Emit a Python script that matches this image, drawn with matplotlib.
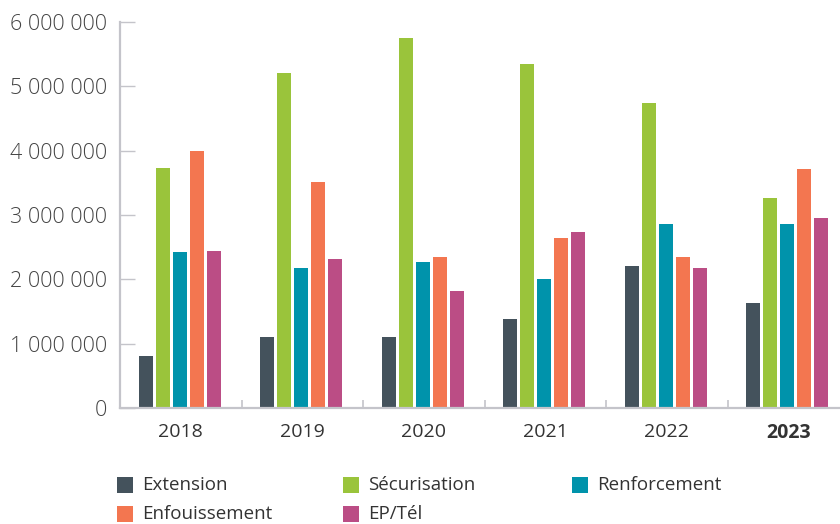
import matplotlib
matplotlib.use("Agg")
import matplotlib.pyplot as plt
from matplotlib.patches import Rectangle
from matplotlib.ticker import FuncFormatter, FixedLocator
import numpy as np

plt.rcParams["font.family"] = ["Open Sans", "DejaVu Sans"]

years = ["2018", "2019", "2020", "2021", "2022", "2023"]
series_names = ["Extension", "Sécurisation", "Renforcement", "Enfouissement", "EP/Tél"]
series_colors = ["#44525c", "#9ac43b", "#0093ab", "#f37650", "#bb4d85"]

extension = [810000, 1110000, 1110000, 1380000, 2200000, 1630000]
securisation = [3730000, 5200000, 5750000, 5350000, 4740000, 3260000]
renforcement = [2420000, 2170000, 2270000, 2000000, 2860000, 2860000]
enfouissement = [4000000, 3510000, 2350000, 2650000, 2350000, 3710000]
ep_tel = [2440000, 2320000, 1820000, 2730000, 2170000, 2950000]
series_values = [extension, securisation, renforcement, enfouissement, ep_tel]

yticks = [0, 1000000, 2000000, 3000000, 4000000, 5000000, 6000000]

W, H = 840, 524
fig = plt.figure(figsize=(W / 100, H / 100), dpi=100)
# axes runs a bit past the right edge, like the original
ax = fig.add_axes([120 / W, (H - 408) / H, 729 / W, 386 / H])

x = np.arange(len(years))
step = 0.14
width = 0.115
for i, (vals, color) in enumerate(zip(series_values, series_colors)):
    ax.bar(x + (i - 2) * step - 0.01, vals, width, color=color, zorder=2)

ax.set_xlim(-0.5, len(years) - 0.5)
ax.set_ylim(0, 6000000)

grey = "#c4c4ca"
for side in ["top", "right"]:
    ax.spines[side].set_visible(False)
for side in ["left", "bottom"]:
    ax.spines[side].set_color(grey)
    ax.spines[side].set_linewidth(1.6)
    ax.spines[side].set_zorder(3)

ax.set_yticks(yticks)
ax.yaxis.set_major_formatter(FuncFormatter(lambda v, p: f"{int(v):,}".replace(",", " ")))
ax.tick_params(axis="y", direction="in", length=11, width=1, color=grey,
               labelsize=15.5, labelcolor="#444444", pad=9)
for lbl in ax.get_yticklabels():
    lbl.set_fontweight("light")

ax.set_xticks(x)
ax.set_xticklabels(years)
ax.tick_params(axis="x", which="major", length=0, labelsize=14,
               labelcolor="#333333", pad=11)
ax.xaxis.set_minor_locator(FixedLocator(x[:-1] + 0.5))
ax.tick_params(axis="x", which="minor", direction="in", length=5.5, width=1.2, color=grey)
ax.get_xticklabels()[-1].set_fontweight("bold")

# legend, laid out by hand in two rows
col_x = [117, 343, 572]
row_y = [485, 514]
for i, (name, color) in enumerate(zip(series_names, series_colors)):
    cx = col_x[i % 3]
    cy = row_y[i // 3]
    fig.patches.append(Rectangle((cx / W, (H - cy - 8) / H), 16 / W, 16 / H,
                                 transform=fig.transFigure, facecolor=color,
                                 edgecolor="none"))
    fig.text((cx + 25) / W, (H - cy) / H, name, fontsize=13.5, color="#333333",
             ha="left", va="center")

fig.savefig("out.png", dpi=100)
